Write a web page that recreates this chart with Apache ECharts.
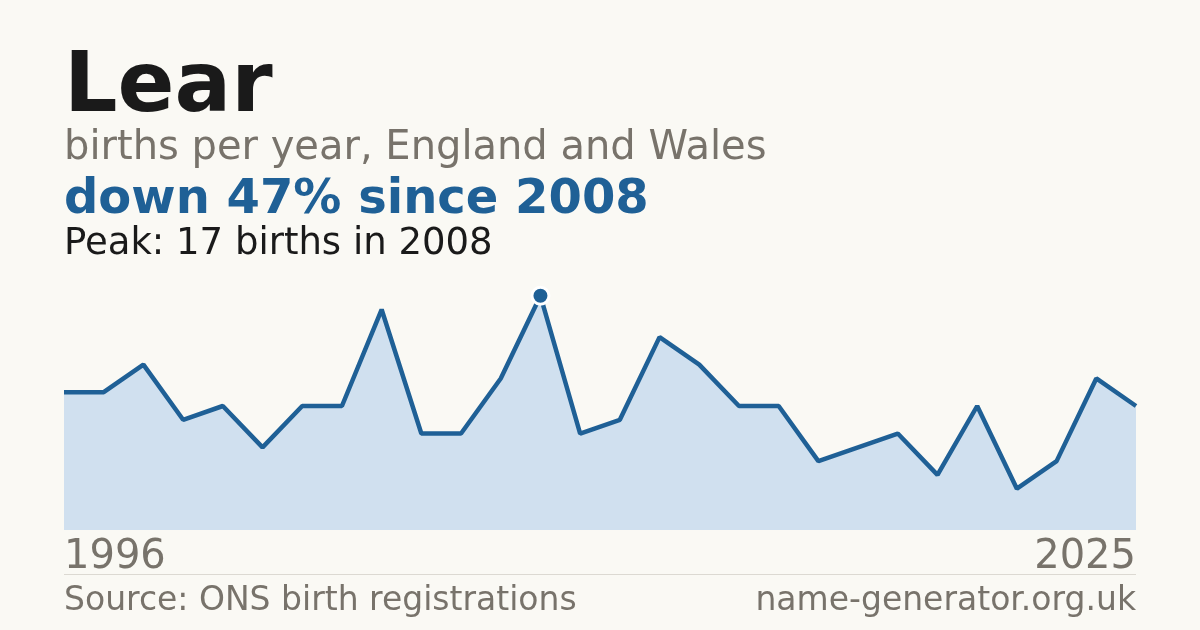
<!DOCTYPE html>
<html>
<head>
<meta charset="utf-8">
<script src="https://cdn.jsdelivr.net/npm/echarts@6/dist/echarts.min.js"></script>
<style>
  html, body { margin: 0; padding: 0; background: #faf9f4; }
  #main { width: 1200px; height: 630px; }
</style>
</head>
<body>
<div id="main"></div>
<script>
// births per year; two years after 2008 have no published count
var years = ['1996','1997','1998','1999','2000','2001','2002','2003','2004','2005',
	'2006','2007','2008','2009','2010','2011','2012','2014','2015','2016',
	'2017','2018','2019','2020','2022','2023','2024','2025'];
var births = [10, 10, 12, 8, 9, 6, 9, 9, 16, 7,
	7, 11, 17, 7, 8, 14, 12, 9, 9, 5,
	6, 7, 4, 9, 3, 5, 11, 9];
var peakYear = '2008';
var peakValue = 17;

var gray = '#78736b';
var blue = '#1f6096';
var font = '"DejaVu Sans", sans-serif';

var myChart = echarts.init(document.getElementById('main'));
var option = {
	backgroundColor: '#faf9f4',
	animation: false,
	grid: { left: 64, right: 64, top: 282, bottom: 100 },
	xAxis: {
		type: 'category',
		boundaryGap: false,
		data: years,
		axisLine: { show: false },
		axisTick: { show: false },
		axisLabel: {
			interval: function (i) { return i === 0 || i === years.length - 1; },
			alignMinLabel: 'left',
			alignMaxLabel: 'right',
			color: gray,
			fontFamily: font,
			fontSize: 40,
			margin: 8
		}
	},
	yAxis: {
		type: 'value',
		min: 0,
		max: 18,
		show: false,
		splitLine: { show: false }
	},
	series: [
		{
			type: 'line',
			data: births,
			symbol: 'none',
			lineStyle: { color: blue, width: 4.5 },
			areaStyle: { color: '#d0e0ef', opacity: 1 },
			markPoint: {
				symbol: 'circle',
				symbolSize: 17,
				label: { show: false },
				itemStyle: { color: blue, borderColor: '#ffffff', borderWidth: 3 },
				data: [{ coord: [peakYear, peakValue] }]
			}
		}
	],
	graphic: [
		{ type: 'text', left: 64, top: 47, style: { text: 'Lear', fill: '#1a1a1a', font: 'bold 84px ' + font } },
		{ type: 'text', left: 64, top: 129, style: { text: 'births per year, England and Wales', fill: gray, font: '40px ' + font } },
		{ type: 'text', left: 64, top: 177, style: { text: 'down 47% since 2008', fill: blue, font: 'bold 48px ' + font } },
		{ type: 'text', left: 64, top: 226, style: { text: 'Peak: 17 births in 2008', fill: '#1a1a1a', font: '37px ' + font } },
		{ type: 'line', shape: { x1: 64, y1: 574.5, x2: 1136, y2: 574.5 }, style: { stroke: '#dcd9d2', lineWidth: 1 } },
		{ type: 'text', left: 64, top: 585, style: { text: 'Source: ONS birth registrations', fill: gray, font: '33px ' + font } },
		{ type: 'text', right: 64, top: 585, style: { text: 'name-generator.org.uk', fill: gray, font: '33px ' + font } }
	]
};
myChart.setOption(option);
</script>
</body>
</html>
